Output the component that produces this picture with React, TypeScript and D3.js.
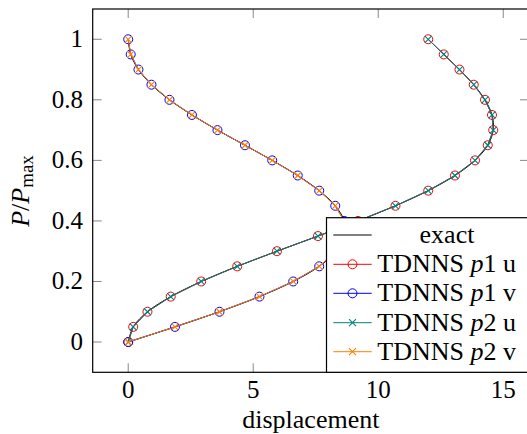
import React from "react";
import * as d3 from "d3";

const loads = [0, 0.05, 0.1, 0.15, 0.2, 0.25, 0.3, 0.35, 0.4, 0.45, 0.5, 0.55, 0.6, 0.65, 0.7, 0.75, 0.8, 0.85, 0.9, 0.95, 1];
const uVals = [0, 0.2, 0.77, 1.7, 2.92, 4.36, 5.95, 7.59, 9.19, 10.69, 12.0, 13.07, 13.87, 14.38, 14.6, 14.55, 14.27, 13.82, 13.25, 12.62, 12.0];
const vVals = [0, 1.87, 3.65, 5.25, 6.6, 7.64, 8.33, 8.66, 8.64, 8.28, 7.64, 6.78, 5.76, 4.67, 3.57, 2.55, 1.65, 0.93, 0.41, 0.1, 0];
const xTicks = [0, 5, 10, 15];
const yTicks = [0, 0.2, 0.4, 0.6, 0.8, 1];
const legendLabels = ["exact", "TDNNS p1 u", "TDNNS p1 v", "TDNNS p2 u", "TDNNS p2 v"];

const W = 527, H = 434;
const FL = 92.7, FR = 529, FT = 9, FB = 372.3;
const FONT = "'Liberation Serif', 'Times New Roman', serif";
const FS = 25;

type Pt = { x: number; y: number };

export default function App() {
  const x = d3.scaleLinear().domain([-1.42, 16.03]).range([FL, FR]);
  const y = d3.scaleLinear().domain([-0.1, 1.1]).range([FB, FT]);

  const uPts: Pt[] = loads.map((p, i) => ({ x: uVals[i], y: p }));
  const vPts: Pt[] = loads.map((p, i) => ({ x: vVals[i], y: p }));

  const lin = d3.line<Pt>().x(d => x(d.x)).y(d => y(d.y));
  const smooth = d3.line<Pt>().x(d => x(d.x)).y(d => y(d.y)).curve(d3.curveCatmullRom.alpha(0.5));

  const series = [
    { label: legendLabels[1], pts: uPts, color: "#ff0000", mark: "o" },
    { label: legendLabels[2], pts: vPts, color: "#0000ff", mark: "o" },
    { label: legendLabels[3], pts: uPts, color: "#008080", mark: "x" },
    { label: legendLabels[4], pts: vPts, color: "#ff8000", mark: "x" },
  ];

  const R = 4.5, XS = 3.5;
  const marker = (mark: string, cx: number, cy: number, color: string, key: string) =>
    mark === "o" ? (
      <circle key={key} cx={cx} cy={cy} r={R} fill="none" stroke={color} strokeWidth={1} />
    ) : (
      <path key={key} d={`M${cx - XS},${cy - XS}L${cx + XS},${cy + XS}M${cx - XS},${cy + XS}L${cx + XS},${cy - XS}`} stroke={color} strokeWidth={1.1} fill="none" />
    );

  const tickLen = 9;
  const legL = 326.5, legT = 217.7;
  const rowY = [235, 264.3, 293.3, 322.7, 351.7];
  const sampleL = 333.3, sampleR = 371.7, textX = 377.3;

  const legendText = (label: string) => {
    if (label === "exact") return label;
    const m = label.match(/^(TDNNS )p(\d)( .*)$/);
    if (!m) return label;
    return (
      <>
        {m[1]}
        <tspan fontStyle="italic">p</tspan>
        {m[2] + m[3]}
      </>
    );
  };

  return (
    <svg width={W} height={H} style={{ position: "absolute", left: 0, top: 0, background: "#fff" }} fontFamily={FONT}>
      <rect x={0} y={0} width={W} height={H} fill="#fff" />
      {xTicks.map(t => (
        <g key={"xt" + t} stroke="#888" strokeWidth={1}>
          <line x1={x(t)} x2={x(t)} y1={FB} y2={FB - tickLen} />
          <line x1={x(t)} x2={x(t)} y1={FT} y2={FT + tickLen} />
        </g>
      ))}
      {yTicks.map(t => (
        <g key={"yt" + t} stroke="#888" strokeWidth={1}>
          <line x1={FL} x2={FL + tickLen} y1={y(t)} y2={y(t)} />
          <line x1={FR} x2={FR - tickLen} y1={y(t)} y2={y(t)} />
        </g>
      ))}
      <path d={smooth(uPts) || ""} fill="none" stroke="#000" strokeWidth={1} />
      <path d={smooth(vPts) || ""} fill="none" stroke="#000" strokeWidth={1} />
      {series.map((s, si) => (
        <g key={"s" + si}>
          <path d={lin(s.pts) || ""} fill="none" stroke={s.color} strokeWidth={1} />
          {s.pts.map((p, i) => marker(s.mark, x(p.x), y(p.y), s.color, `m${si}-${i}`))}
        </g>
      ))}
      <rect x={FL} y={FT} width={FR - FL} height={FB - FT} fill="none" stroke="#000" strokeWidth={1.2} />
      {xTicks.map(t => (
        <text key={"xl" + t} x={x(t)} y={398} textAnchor="middle" fontSize={FS} fill="#000">{t}</text>
      ))}
      {yTicks.map(t => (
        <text key={"yl" + t} x={83} y={y(t) + 8} textAnchor="end" fontSize={FS} fill="#000">{t}</text>
      ))}
      <text x={(FL + FR) / 2} y={428} textAnchor="middle" fontSize={26} fill="#000">displacement</text>
      <text transform={`translate(29,191) rotate(-90)`} textAnchor="middle" fontSize={26} fill="#000">
        <tspan fontStyle="italic">P</tspan>/<tspan fontStyle="italic">P</tspan>
        <tspan fontSize={19} dy={4}>max</tspan>
      </text>
      <rect x={legL} y={legT} width={FR - legL + 5} height={FB - legT} fill="#fff" stroke="#000" strokeWidth={1.2} />
      <g>
        <line x1={sampleL} x2={sampleR} y1={rowY[0]} y2={rowY[0]} stroke="#000" strokeWidth={1} />
        <text x={447} y={rowY[0] + 8} textAnchor="middle" fontSize={26} fill="#000">{legendText(legendLabels[0])}</text>
        {series.map((s, i) => (
          <g key={"lg" + i}>
            <line x1={sampleL} x2={sampleR} y1={rowY[i + 1]} y2={rowY[i + 1]} stroke={s.color} strokeWidth={1} />
            {marker(s.mark, (sampleL + sampleR) / 2, rowY[i + 1], s.color, "lm" + i)}
            <text x={textX} y={rowY[i + 1] + 8} fontSize={26} fill="#000">{legendText(s.label)}</text>
          </g>
        ))}
      </g>
    </svg>
  );
}
